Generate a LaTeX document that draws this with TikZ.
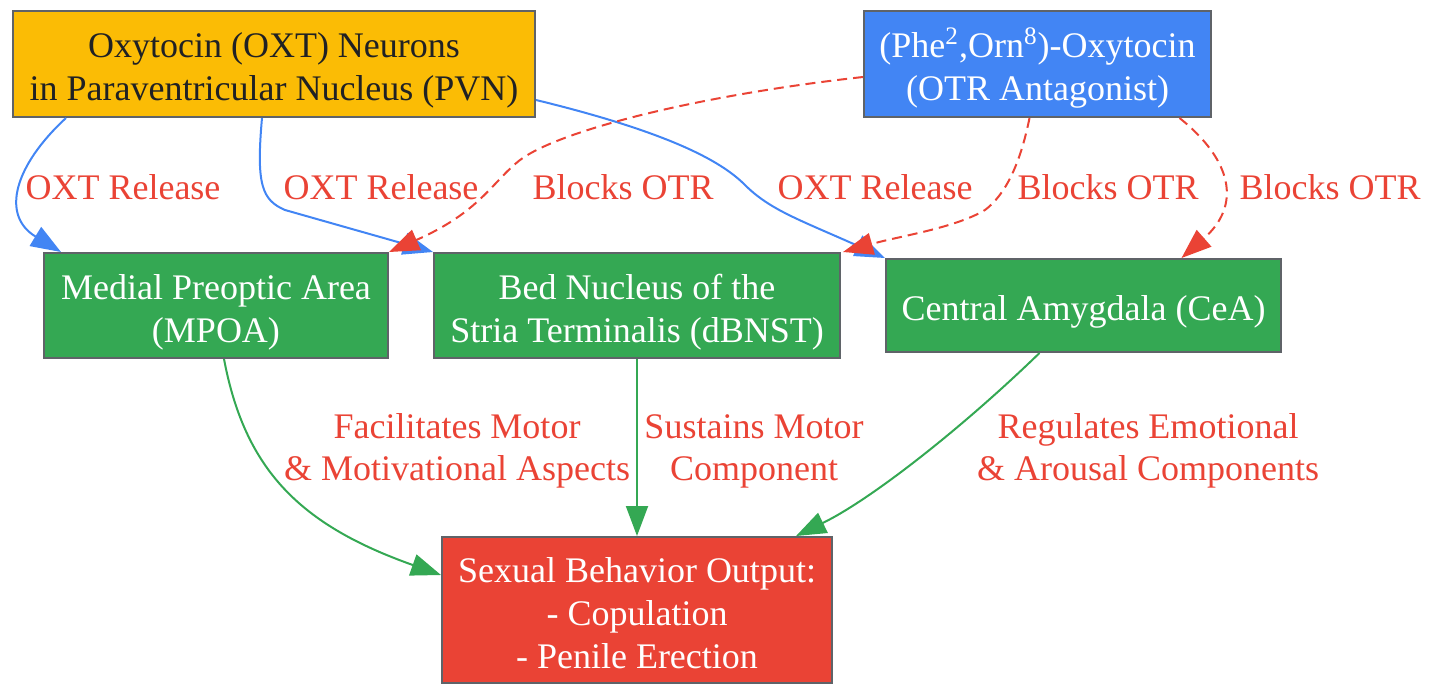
\documentclass[tikz,border=0pt]{standalone}
\usepackage{fontspec}
\setmainfont{Liberation Serif}
\usetikzlibrary{arrows.meta,positioning,calc}
\definecolor{gyellow}{HTML}{FBBC05}
\definecolor{gblue}{HTML}{4285F4}
\definecolor{ggreen}{HTML}{34A853}
\definecolor{gred}{HTML}{EA4335}
\definecolor{gborder}{HTML}{5F6368}
\definecolor{gtext}{HTML}{202124}
\tikzset{
    box/.style={
        rectangle,
        draw=gborder,
        line width=1pt,
        align=center,
        text=white,
        inner sep=0pt,
        text depth=1pt,
        font=\fontsize{18}{21.5}\selectfont,
    },
    lines/.style={text height={(#1-1)*21.5pt+16pt}},
    pvnbox/.style={box, fill=gyellow, text=gtext},
    drugbox/.style={box, fill=gblue},
    areabox/.style={box, fill=ggreen},
    outbox/.style={box, fill=gred},
    lbl/.style={
        text=gred,
        align=center,
        font=\fontsize{18}{21}\selectfont,
    },
    link/.style={
        line width=1pt,
        -{Triangle[length=15pt,width=11pt]},
    },
    release/.style={link, draw=gblue},
    blocks/.style={link, draw=gred, dash pattern=on 5pt off 3pt},
    drives/.style={link, draw=ggreen},
}

\begin{document}
\begin{tikzpicture}[x=0.5pt,y=-0.5pt]
    \useasboundingbox (0,0) rectangle (1439,685);

    % sources
    \node [pvnbox, lines=2, minimum width=261pt, minimum height=53pt] (pvn) at (274,64)
        {Oxytocin (OXT) Neurons\\in Paraventricular Nucleus (PVN)};
    \node [drugbox, lines=2, minimum width=173.5pt, minimum height=53pt] (drug) at (1037.5,64)
        {(Phe\textsuperscript{2},Orn\textsuperscript{8})-Oxytocin\\(OTR Antagonist)};

    % brain regions
    \node [areabox, lines=2, minimum width=172pt, minimum height=52.5pt] (mpoa) at (216,305.5)
        {Medial Preoptic Area\\(MPOA)};
    \node [areabox, lines=2, minimum width=203pt, minimum height=52.5pt] (bnst) at (637,305.5)
        {Bed Nucleus of the\\Stria Terminalis (dBNST)};
    \node [areabox, lines=1, minimum width=197.5pt, minimum height=46.5pt] (cea) at (1083.5,305.5)
        {Central Amygdala (CeA)};

    % output
    \node [outbox, lines=3, minimum width=195pt, minimum height=73pt] (out) at (637,610)
        {Sexual Behavior Output:\\- Copulation\\- Penile Erection};

    % OXT release
    \draw [release] ($(pvn.south west)+(54,0)$) .. controls (15,165) and (0,215)
        .. ($(mpoa.north west)+(18,0)$);
    \draw [release] ($(pvn.south)+(-12,0)$) .. controls (256,185) and (262,200)
        .. (285,210) -- (bnst.north west);
    \draw [release] ($(pvn.east)+(0,36)$) .. controls (680,135) and (725,165)
        .. (745,185) .. controls (770,210) and (800,220) .. (cea.north west);

    % antagonist
    \draw [blocks] ($(drug.west)+(0,13)$) .. controls (700,95) and (560,130)
        .. (520,160) .. controls (492,182) and (480,212) .. (mpoa.north east);
    \draw [blocks] ($(drug.south)+(-8,0)$) .. controls (1020,165) and (1005,195)
        .. (985,210) .. controls (955,228) and (900,236) .. ($(bnst.north east)+(2,0)$);
    \draw [blocks] ($(drug.south)+(142,0)$) .. controls (1232,160) and (1242,205)
        .. ($(cea.north)+(98,0)$);

    % outputs
    \draw [drives] ($(mpoa.south)+(8,0)$) .. controls (245,470) and (300,525)
        .. ($(out.west)+(0,-35)$);
    \draw [drives] (bnst.south) -- (out.north);
    \draw [drives] ($(cea.south)+(-44,0)$) .. controls (960,430) and (870,500)
        .. ($(out.north east)+(-37,0)$);

    % labels
    \node [lbl] (l1) at (123,187) {OXT Release};
    \node [lbl] (l2) at (381,187) {OXT Release};
    \node [lbl] (l3) at (875,187) {OXT Release};
    \node [lbl] (l4) at (623,187) {Blocks OTR};
    \node [lbl] (l5) at (1108,187) {Blocks OTR};
    \node [lbl] (l6) at (1330,187) {Blocks OTR};
    \node [lbl] (l7) at (457,451) {Facilitates Motor\\\& Motivational Aspects};
    \node [lbl] (l8) at (754,451) {Sustains Motor\\Component};
    \node [lbl] (l9) at (1148,451) {Regulates Emotional\\\& Arousal Components};
\end{tikzpicture}
\end{document}
